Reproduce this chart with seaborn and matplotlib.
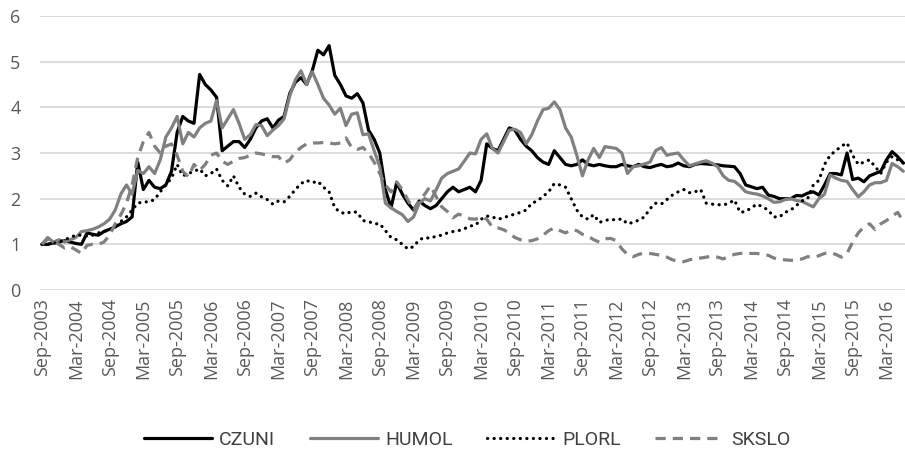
import matplotlib
matplotlib.use("Agg")
import matplotlib.pyplot as plt
import seaborn as sns
import pandas as pd

# ---- data (monthly, Sep-2003 .. Jun-2016) ----
czuni = [1.00, 1.00, 1.03, 1.05, 1.08, 1.05, 1.02, 1.00, 1.25, 1.22,
         1.20, 1.28, 1.33, 1.38, 1.45, 1.50, 1.60, 2.80, 2.20, 2.40,
         2.25, 2.22, 2.30, 2.60, 3.45, 3.80, 3.70, 3.65, 4.72, 4.50,
         4.38, 4.22, 3.05, 3.15, 3.25, 3.25, 3.12, 3.30, 3.55, 3.70,
         3.75, 3.55, 3.72, 3.80, 4.30, 4.55, 4.65, 4.50, 4.80, 5.25,
         5.15, 5.35, 4.70, 4.50, 4.25, 4.20, 4.30, 4.10, 3.50, 3.30,
         3.00, 2.20, 1.80, 2.35, 2.10, 1.90, 1.75, 1.95, 1.85, 1.78,
         1.85, 2.00, 2.15, 2.25, 2.15, 2.20, 2.25, 2.15, 2.40, 3.20,
         3.10, 3.05, 3.30, 3.55, 3.50, 3.30, 3.15, 3.05, 2.90, 2.80,
         2.75, 3.05, 2.90, 2.75, 2.72, 2.75, 2.85, 2.75, 2.72, 2.75,
         2.72, 2.70, 2.70, 2.75, 2.72, 2.70, 2.75, 2.70, 2.68, 2.72,
         2.75, 2.70, 2.72, 2.78, 2.72, 2.70, 2.75, 2.77, 2.76, 2.75,
         2.74, 2.72, 2.71, 2.70, 2.55, 2.30, 2.26, 2.22, 2.25, 2.08,
         2.05, 2.00, 2.00, 2.00, 2.07, 2.06, 2.12, 2.15, 2.08, 2.30,
         2.55, 2.55, 2.52, 3.00, 2.42, 2.45, 2.37, 2.50, 2.55, 2.60,
         2.85, 3.03, 2.92, 2.78]

humol = [1.00, 1.15, 1.05, 1.10, 1.05, 1.10, 1.15, 1.28, 1.30, 1.33,
         1.38, 1.45, 1.55, 1.75, 2.10, 2.30, 2.10, 2.62, 2.55, 2.70,
         2.55, 2.85, 3.35, 3.55, 3.80, 3.20, 3.45, 3.35, 3.55, 3.65,
         3.70, 4.15, 3.55, 3.75, 3.95, 3.65, 3.30, 3.40, 3.62, 3.60,
         3.38, 3.50, 3.60, 3.75, 4.25, 4.60, 4.80, 4.50, 4.78, 4.50,
         4.20, 4.05, 3.85, 3.98, 3.60, 3.85, 3.88, 3.40, 3.42, 3.05,
         2.70, 1.90, 1.80, 1.72, 1.65, 1.50, 1.60, 1.90, 2.00, 1.95,
         2.19, 2.45, 2.55, 2.60, 2.65, 2.82, 3.00, 2.98, 3.30, 3.42,
         3.10, 3.00, 3.25, 3.50, 3.52, 3.45, 3.20, 3.40, 3.70, 3.95,
         3.98, 4.12, 3.95, 3.55, 3.35, 2.95, 2.50, 2.85, 3.10, 2.90,
         3.14, 3.12, 3.10, 3.00, 2.55, 2.70, 2.72, 2.76, 2.80, 3.05,
         3.12, 2.95, 2.98, 3.00, 2.85, 2.72, 2.76, 2.80, 2.83, 2.78,
         2.70, 2.50, 2.40, 2.38, 2.28, 2.15, 2.12, 2.10, 2.06, 2.00,
         1.92, 1.93, 1.98, 2.00, 1.96, 1.94, 1.88, 1.82, 2.00, 2.10,
         2.52, 2.45, 2.40, 2.38, 2.20, 2.04, 2.15, 2.30, 2.35, 2.35,
         2.40, 2.77, 2.70, 2.60]

plorl = [1.00, 1.00, 1.02, 1.05, 1.10, 1.15, 1.20, 1.20, 1.18, 1.20,
         1.25, 1.28, 1.32, 1.38, 1.50, 1.60, 1.75, 1.90, 1.93, 1.93,
         1.98, 2.15, 2.30, 2.45, 2.75, 2.50, 2.55, 2.60, 2.65, 2.50,
         2.55, 2.65, 2.40, 2.28, 2.50, 2.25, 2.10, 2.05, 2.12, 2.04,
         1.98, 1.88, 1.95, 1.93, 2.05, 2.20, 2.33, 2.40, 2.35, 2.38,
         2.25, 2.15, 1.80, 1.70, 1.67, 1.72, 1.70, 1.52, 1.50, 1.45,
         1.45, 1.30, 1.15, 1.10, 1.00, 0.90, 0.95, 1.10, 1.15, 1.13,
         1.18, 1.20, 1.25, 1.28, 1.30, 1.34, 1.40, 1.42, 1.55, 1.62,
         1.60, 1.55, 1.58, 1.63, 1.66, 1.70, 1.75, 1.90, 1.95, 2.05,
         2.15, 2.33, 2.30, 2.25, 2.00, 1.75, 1.60, 1.55, 1.65, 1.48,
         1.52, 1.55, 1.53, 1.56, 1.45, 1.48, 1.53, 1.60, 1.78, 1.90,
         1.88, 1.98, 2.08, 2.15, 2.20, 2.13, 2.15, 2.20, 1.90, 1.88,
         1.87, 1.86, 1.90, 1.97, 1.70, 1.72, 1.80, 1.88, 1.82, 1.75,
         1.60, 1.60, 1.70, 1.75, 1.85, 1.95, 2.00, 2.30, 2.40, 2.75,
         2.95, 3.05, 3.15, 3.22, 2.95, 2.75, 2.80, 2.85, 2.70, 2.55,
         2.80, 2.92, 2.85, 2.78]

skslo = [1.00, 1.12, 1.08, 1.00, 0.92, 0.95, 0.88, 0.80, 0.98, 1.00,
         1.00, 1.05, 1.20, 1.45, 1.65, 1.90, 2.30, 2.90, 3.25, 3.45,
         3.15, 3.00, 3.15, 3.20, 2.95, 2.60, 2.48, 2.75, 2.62, 2.75,
         2.95, 3.00, 2.82, 2.75, 2.82, 2.88, 2.90, 2.95, 3.00, 2.98,
         2.95, 2.92, 2.92, 2.78, 2.85, 3.02, 3.12, 3.20, 3.22, 3.22,
         3.23, 3.22, 3.20, 3.22, 3.33, 3.12, 3.08, 3.12, 3.00, 2.80,
         2.55, 2.30, 2.15, 2.37, 2.20, 1.97, 1.75, 1.95, 2.10, 2.28,
         2.05, 1.82, 1.72, 1.58, 1.66, 1.62, 1.56, 1.55, 1.60, 1.55,
         1.38, 1.36, 1.32, 1.25, 1.15, 1.10, 1.07, 1.08, 1.12, 1.20,
         1.30, 1.36, 1.30, 1.25, 1.32, 1.30, 1.22, 1.18, 1.10, 1.05,
         1.12, 1.13, 1.08, 0.90, 0.78, 0.73, 0.78, 0.81, 0.80, 0.78,
         0.76, 0.72, 0.66, 0.63, 0.62, 0.66, 0.69, 0.70, 0.72, 0.74,
         0.72, 0.68, 0.74, 0.78, 0.80, 0.81, 0.80, 0.80, 0.78, 0.76,
         0.70, 0.67, 0.66, 0.65, 0.66, 0.68, 0.73, 0.72, 0.75, 0.80,
         0.82, 0.78, 0.72, 0.80, 1.05, 1.25, 1.38, 1.45, 1.32, 1.45,
         1.52, 1.62, 1.70, 1.50]

tick_labels = ["Sep-2003", "Mar-2004", "Sep-2004", "Mar-2005", "Sep-2005",
               "Mar-2006", "Sep-2006", "Mar-2007", "Sep-2007", "Mar-2008",
               "Sep-2008", "Mar-2009", "Sep-2009", "Mar-2010", "Sep-2010",
               "Mar-2011", "Sep-2011", "Mar-2012", "Sep-2012", "Mar-2013",
               "Sep-2013", "Mar-2014", "Sep-2014", "Mar-2015", "Sep-2015",
               "Mar-2016"]
series_names = ["CZUNI", "HUMOL", "PLORL", "SKSLO"]

# ---- build table ----
series_values = [czuni, humol, plorl, skslo]
frames = []
for name, vals in zip(series_names, series_values):
    frames.append(pd.DataFrame({"month": range(len(vals)), "value": vals, "series": name}))
df = pd.concat(frames, ignore_index=True)

sns.set_theme(style="white")
plt.rcParams["font.family"] = ["Open Sans", "DejaVu Sans"]

fig = plt.figure(figsize=(9.05, 4.51), dpi=100)
ax = fig.add_axes([40 / 905, 1 - 290 / 451, 865 / 905, 274 / 451])

styles = {
    "CZUNI": dict(color="#000000", linestyle="-"),
    "HUMOL": dict(color="#808080", linestyle="-"),
    "PLORL": dict(color="#000000", linestyle=(0, (0.05, 2.0)), dash_capstyle="round"),
    "SKSLO": dict(color="#808080", linestyle=(0, (3.2, 2.2)), dash_capstyle="butt"),
}
for name in series_names:
    sub = df[df["series"] == name]
    sns.lineplot(data=sub, x="month", y="value", ax=ax, label=name,
                 linewidth=2.3, solid_joinstyle="round", **styles[name])

ax.set_ylim(0, 6)
ax.set_xlim(-0.36, 153.3)
ax.set_yticks(range(0, 7))
ax.set_xticks(range(0, 151, 6))
ax.set_xticklabels(tick_labels, rotation=90, va="top", ha="center")
ax.tick_params(axis="x", length=0, pad=6, labelsize=13, labelcolor="#595959")
ax.tick_params(axis="y", length=0, pad=14, labelsize=13, labelcolor="#595959")
ax.set_xlabel("")
ax.set_ylabel("")
ax.grid(axis="y", color="#d9d9d9", linewidth=1.3)
ax.grid(axis="x", visible=False)
ax.set_axisbelow(True)
for s in ax.spines.values():
    s.set_visible(False)

handles, labels = ax.get_legend_handles_labels()
ax.get_legend().remove()
fig.legend(handles, labels, loc="center", bbox_to_anchor=(467 / 905, 1 - 440 / 451),
           ncol=4, frameon=False, handlelength=3.5, columnspacing=1.75,
           handletextpad=0.4,
           prop={"family": ["Roboto", "DejaVu Sans"], "size": 14})
for t in fig.legends[0].get_texts():
    t.set_color("#404040")

fig.savefig("out.png", dpi=100)
